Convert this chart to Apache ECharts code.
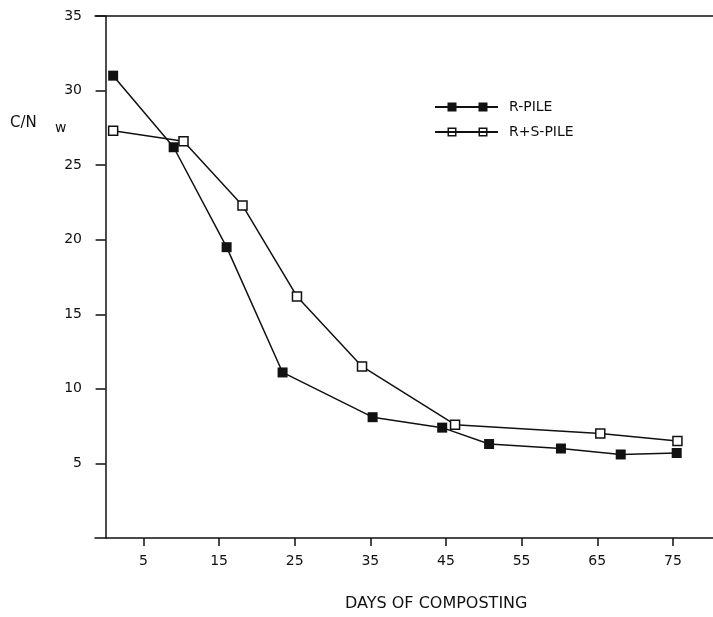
<!DOCTYPE html>
<html>
<head>
<meta charset="utf-8">
<script src="https://cdn.jsdelivr.net/npm/echarts@6/dist/echarts.min.js"></script>
<style>
  html, body { margin: 0; padding: 0; background: #fff; }
  #chart { width: 713px; height: 617px; }
</style>
</head>
<body>
<div id="chart"></div>
<script>
// days of composting
const rDays = [1, 9, 16, 23.4, 35.3, 44.5, 50.7, 60.2, 68.1, 75.5]
const rValues = [31.0, 26.2, 19.5, 11.1, 8.1, 7.4, 6.3, 6.0, 5.6, 5.7]
const rsDays = [1, 10.3, 18.1, 25.3, 33.9, 46.2, 65.4, 75.6]
const rsValues = [27.3, 26.6, 22.3, 16.2, 11.5, 7.6, 7.0, 6.5]
const xTicks = [5, 15, 25, 35, 45, 55, 65, 75]
const yTicks = [5, 10, 15, 20, 25, 30, 35]
const seriesNames = ['R-PILE', 'R+S-PILE']

const font = 'DejaVu Sans'
const ink = '#111'

// legend icons: line with two squares (open squares have a hole)
const iconFilled = 'path://M0 4H63V6H0Z M12.5 0.5H21.5V9.5H12.5Z M43.5 0.5H52.5V9.5H43.5Z'
const iconOpen = 'path://M0 4H63V6H0Z M12.5 0.5H21.5V9.5H12.5Z M14 2V8H20V2Z M43.5 0.5H52.5V9.5H43.5Z M45 2V8H51V2Z'

const chart = echarts.init(document.getElementById('chart'))

const option = {
  backgroundColor: '#fff',
  animation: false,
  grid: { left: 95, right: 0, top: 16, bottom: 79 },
  title: {
    text: 'DAYS OF COMPOSTING',
    left: 345,
    top: 596,
    padding: 0,
    textStyle: { fontFamily: font, fontSize: 16, fontWeight: 'normal', color: ink }
  },
  legend: {
    orient: 'vertical',
    left: 435,
    top: 100,
    padding: 0,
    itemWidth: 63,
    itemHeight: 10,
    itemGap: 11,
    textStyle: { fontFamily: font, fontSize: 14, color: ink, padding: [0, 0, 0, 6] },
    data: [
      { name: seriesNames[0], icon: iconFilled, itemStyle: { color: ink, borderWidth: 0 } },
      { name: seriesNames[1], icon: iconOpen, itemStyle: { color: ink, borderWidth: 0 } }
    ]
  },
  graphic: [
    { type: 'text', left: 10, top: 116, style: { text: 'C/N', font: '15px "DejaVu Sans"', fill: ink } },
    { type: 'text', left: 55, top: 121, style: { text: 'w', font: '14px "DejaVu Sans"', fill: ink } }
  ],
  xAxis: [
    {
      type: 'value',
      min: -1.4,
      max: 80.3,
      axisLine: { show: true, lineStyle: { color: ink, width: 1.5 } },
      axisTick: { show: true, customValues: xTicks, length: 8, lineStyle: { color: ink, width: 1.5 } },
      axisLabel: { customValues: xTicks, margin: 16, fontFamily: font, fontSize: 14, color: ink },
      splitLine: { show: false }
    },
    {
      type: 'value',
      position: 'top',
      min: -1.4,
      max: 80.3,
      axisLine: { show: true, lineStyle: { color: ink, width: 1.5 } },
      axisTick: { show: false },
      axisLabel: { show: false },
      splitLine: { show: false }
    }
  ],
  yAxis: {
    type: 'value',
    min: 0,
    max: 35,
    interval: 5,
    axisLine: { show: true, lineStyle: { color: ink, width: 1.5 } },
    axisTick: { show: true, customValues: yTicks, length: 10, lineStyle: { color: ink, width: 1.5 } },
    axisLabel: { customValues: yTicks, margin: 13, fontFamily: font, fontSize: 14, color: ink },
    splitLine: { show: false }
  },
  series: [
    {
      name: seriesNames[0],
      type: 'line',
      data: rDays.map((d, i) => [d, rValues[i]]),
      symbol: 'rect',
      symbolSize: 10,
      lineStyle: { color: ink, width: 1.5 },
      itemStyle: { color: ink, borderWidth: 0 },
      z: 2
    },
    {
      name: seriesNames[1],
      type: 'line',
      data: rsDays.map((d, i) => [d, rsValues[i]]),
      symbol: 'rect',
      symbolSize: 9,
      lineStyle: { color: ink, width: 1.5 },
      itemStyle: { color: '#fff', borderColor: ink, borderWidth: 1.5 },
      z: 3
    }
  ]
}

chart.setOption(option)
</script>
</body>
</html>
